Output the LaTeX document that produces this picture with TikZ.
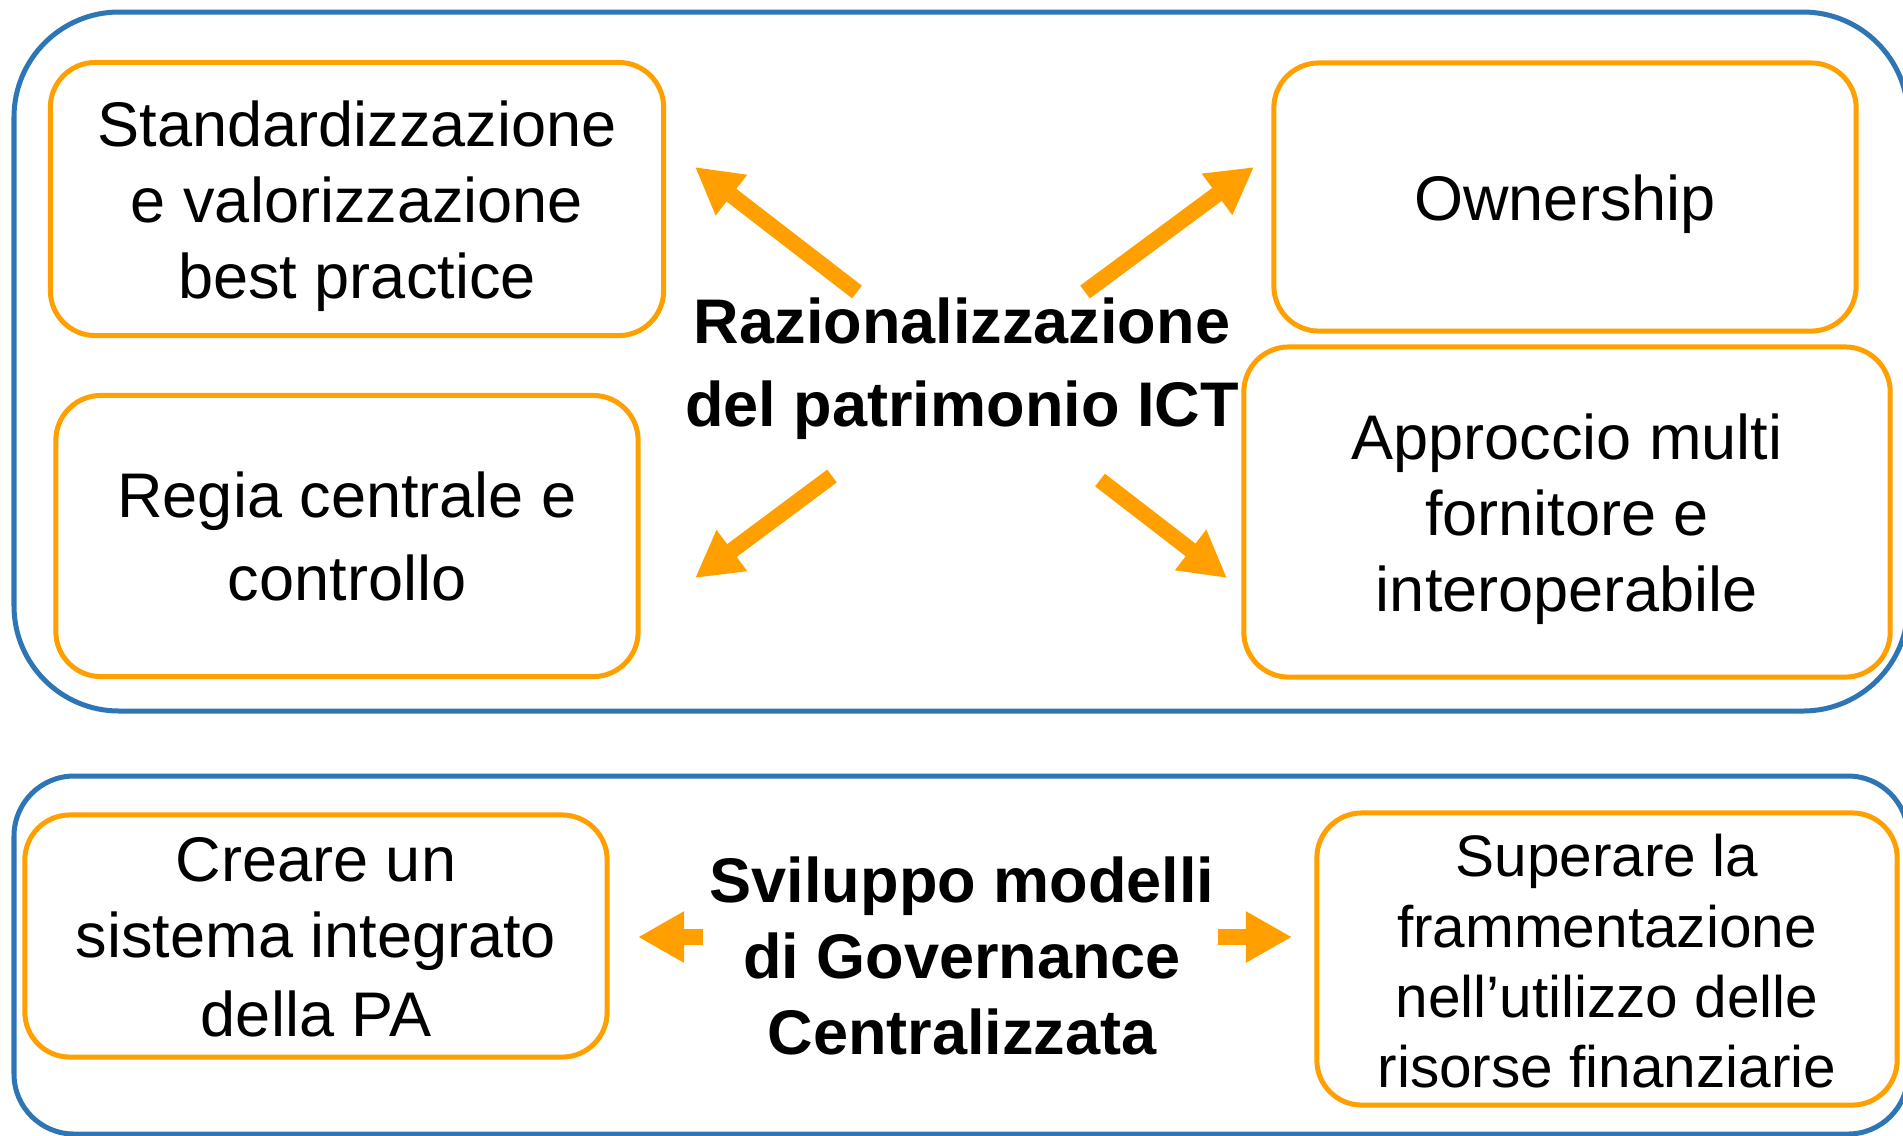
\documentclass[tikz,border=0pt]{standalone}
\usepackage{fontspec}
\setmainfont{Liberation Sans}
\usetikzlibrary{arrows.meta}
\definecolor{boxorange}{RGB}{255,160,0}
\definecolor{frameblue}{RGB}{46,117,182}
\newcommand{\boxfont}{\fontsize{17.93pt}{21.62pt}\selectfont}
\newcommand{\smallboxfont}{\fontsize{16.65pt}{19.92pt}\selectfont}
\newcommand{\linestrut}{\rule[-4.84pt]{0pt}{22.77pt}}
\begin{document}
\begin{tikzpicture}[x=0.01cm,y=-0.01cm,
    frame/.style={draw=frameblue,line width=0.05cm},
    label/.style={inner sep=0pt,align=center,font=\boxfont},
    goal/.style={label,draw=boxorange,line width=0.05cm,rounded corners=0.45cm},
    pointer/.style={draw=boxorange,line width=0.16cm,
        -{Triangle[width=0.48cm,length=0.46cm]}}]
    \useasboundingbox (0,0) rectangle (1903,1135);
    % outer frames
    \draw[frame,rounded corners=1.05cm] (14,12) rectangle (1908,711);
    \draw[frame,rounded corners=0.6cm] (14,776) rectangle (1908,1134);
    % upper group
    \node[goal,minimum width=6.13cm,minimum height=2.73cm] (best) at (357,199)
        {\linestrut Standardizzazione\\e valorizzazione\\best practice\linestrut};
    \node[goal,minimum width=5.82cm,minimum height=2.68cm] (owner) at (1565,197)
        {\linestrut Ownership};
    \node[goal,minimum width=5.82cm,minimum height=2.81cm] (regia) at (347,536)
        {\linestrut Regia centrale e\\controllo\linestrut};
    \node[goal,minimum width=6.46cm,minimum height=3.30cm] (multi) at (1567,512)
        {\linestrut Approccio multi\\fornitore e\\interoperabile\linestrut};
    \node[label,font=\boxfont\bfseries] (ratio) at (962,362)
        {\linestrut Razionalizzazione\\del patrimonio ICT\linestrut};
    \coordinate (tlA) at (857,292); \coordinate (tlB) at (695,167);
    \coordinate (trA) at (1085,292); \coordinate (trB) at (1254,167);
    \coordinate (blA) at (832,476); \coordinate (blB) at (695,578);
    \coordinate (brA) at (1100,480); \coordinate (brB) at (1227,578);
    \draw[pointer] (tlA) -- (tlB);
    \draw[pointer] (trA) -- (trB);
    \draw[pointer] (blA) -- (blB);
    \draw[pointer] (brA) -- (brB);
    % lower group
    \node[goal,minimum width=5.82cm,minimum height=2.42cm] (integr) at (316,936)
        {\linestrut Creare un\\sistema integrato\\della PA\linestrut};
    \node[goal,minimum width=5.80cm,minimum height=2.92cm,font=\smallboxfont] (fondi) at (1607,959)
        {\linestrut Superare la\\frammentazione\\nell’utilizzo delle\\risorse finanziarie\linestrut};
    \node[label,font=\boxfont\bfseries] (gov) at (962,955)
        {\linestrut Sviluppo modelli\\di Governance\\Centralizzata\linestrut};
    \coordinate (glA) at (703,937); \coordinate (glB) at (638,937);
    \coordinate (grA) at (1218,937); \coordinate (grB) at (1292,937);
    \draw[pointer] (glA) -- (glB);
    \draw[pointer] (grA) -- (grB);
\end{tikzpicture}
\end{document}
